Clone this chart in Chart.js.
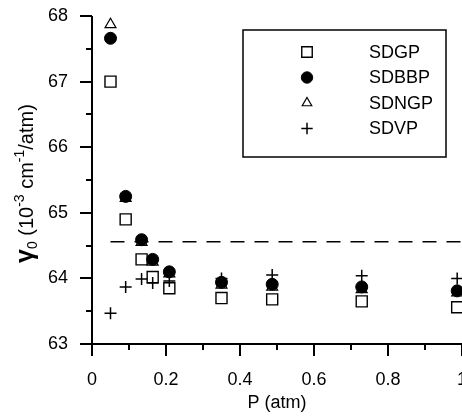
<!DOCTYPE html>
<html>
<head>
<meta charset="utf-8">
<script src="https://cdn.jsdelivr.net/npm/chart.js@4"></script>
<style>
    html, body { margin: 0; padding: 0; background: #fff; }
    canvas { display: block; }
</style>
</head>
<body>
<canvas id="chartGamma" width="462" height="417"></canvas>
<script>
// 数据 (P 单位 atm, γ0 单位 10^-3 cm^-1/atm)
const pressure = [0.05, 0.091, 0.134, 0.164, 0.209, 0.35, 0.487, 0.729, 0.987];
const sdgp  = [67.00, 64.90, 64.29, 64.02, 63.85, 63.70, 63.68, 63.65, 63.56];
const sdbbp = [67.66, 65.25, 64.59, 64.29, 64.10, 63.94, 63.91, 63.87, 63.81];
const sdngp = [67.87, 65.22, 64.55, 64.25, 64.07, 63.90, 63.87, 63.83, 63.78];
const sdvp  = [63.47, 63.87, 63.99, 63.93, 63.96, 64.00, 64.05, 64.04, 64.00];
const dashP = [0.05, 1.0];
const dashGamma = [64.56, 64.56];

const xTicks = [0, 0.2, 0.4, 0.6, 0.8, 1];
const yTicks = [63, 64, 65, 66, 67, 68];
const seriesNames = ['SDGP', 'SDBBP', 'SDNGP', 'SDVP'];

const FONT = '"Liberation Sans", Arial, Helvetica, sans-serif';

function toPoints(xs, ys) {
    return xs.map((x, i) => ({ x: x, y: ys[i] }));
}

// 各系列的符号样式
const markerStyles = {
    SDGP:  { pointStyle: 'rect',     radius: 7.8, fill: '#fff', lineWidth: 1.4, order: 4 },
    SDBBP: { pointStyle: 'circle',   radius: 6,   fill: '#000', lineWidth: 1,   order: 2 },
    SDNGP: { pointStyle: 'triangle', radius: 6.3, fill: '#fff', lineWidth: 1.2, order: 3 },
    SDVP:  { pointStyle: 'cross',    radius: 6,   fill: '#000', lineWidth: 1.5, order: 1 }
};
const seriesData = { SDGP: sdgp, SDBBP: sdbbp, SDNGP: sdngp, SDVP: sdvp };

let datasets = seriesNames.map(name => {
    const st = markerStyles[name];
    return {
        type: 'scatter',
        label: name,
        data: toPoints(pressure, seriesData[name]),
        pointStyle: st.pointStyle,
        pointRadius: st.radius,
        pointBackgroundColor: st.fill,
        pointBorderColor: '#000',
        pointBorderWidth: st.lineWidth,
        showLine: false,
        order: st.order,
        clip: false
    };
});
datasets.push({
    type: 'line',
    label: 'ref',
    data: toPoints(dashP, dashGamma),
    borderColor: '#000',
    borderWidth: 1.5,
    borderDash: [14, 10],
    pointRadius: 0,
    order: 5,
    clip: false
});

// 坐标轴、刻度、标题与图例
const axisPlugin = {
    id: 'axisPlugin',
    afterDraw(chart) {
        const ctx = chart.ctx;
        const xs = chart.scales.x, ys = chart.scales.y;
        const x0 = xs.getPixelForValue(0), x1 = xs.getPixelForValue(1);
        const y0 = ys.getPixelForValue(63), y1 = ys.getPixelForValue(68);
        ctx.save();
        ctx.strokeStyle = '#000';
        ctx.lineWidth = 2;
        ctx.lineCap = 'butt';
        ctx.beginPath();
        ctx.moveTo(x0, y1); ctx.lineTo(x0, y0);
        ctx.moveTo(x0, y0); ctx.lineTo(x1 + 2, y0);
        // y 刻度
        for (let v = 63; v <= 68.001; v += 0.5) {
            const p = Math.round(ys.getPixelForValue(v));
            const major = Math.abs(v - Math.round(v)) < 1e-6;
            ctx.moveTo(x0 - (major ? 12 : 6), p); ctx.lineTo(x0, p);
        }
        // x 刻度
        for (let i = 0; i <= 10; i++) {
            const v = i / 10;
            const p = Math.round(xs.getPixelForValue(v));
            const major = i % 2 === 0;
            ctx.moveTo(p, y0); ctx.lineTo(p, y0 + (major ? 12 : 6));
        }
        ctx.stroke();

        // x 轴标题
        ctx.fillStyle = '#000';
        ctx.font = '18px ' + FONT;
        ctx.textAlign = 'center';
        ctx.textBaseline = 'alphabetic';
        ctx.fillText('P (atm)', (x0 + x1) / 2, 408);

        // y 轴标题 (旋转)
        ctx.save();
        ctx.translate(33, 263);
        ctx.rotate(-Math.PI / 2);
        ctx.textAlign = 'left';
        const parts = [
            ['γ', 'bold 25px ' + FONT, 0],
            ['0', '14px ' + FONT, 4],
            [' (10', '20px ' + FONT, 0],
            ['-3', '14px ' + FONT, -9],
            [' cm', '20px ' + FONT, 0],
            ['-1', '14px ' + FONT, -9],
            ['/atm)', '20px ' + FONT, 0]
        ];
        let cx = 0;
        parts.forEach(p => {
            ctx.font = p[1];
            ctx.fillText(p[0], cx, p[2]);
            cx += ctx.measureText(p[0]).width;
        });
        ctx.restore();

        // 图例
        ctx.lineWidth = 1.5;
        ctx.strokeRect(243, 30, 203, 127);
        ctx.font = '18px ' + FONT;
        ctx.textAlign = 'left';
        ctx.textBaseline = 'middle';
        const rowY = [52, 77.5, 103, 128.5];
        seriesNames.forEach((name, i) => {
            const st = markerStyles[name];
            ctx.fillStyle = st.fill;
            ctx.strokeStyle = '#000';
            ctx.lineWidth = st.lineWidth;
            Chart.helpers.drawPoint(ctx, {
                pointStyle: st.pointStyle,
                radius: st.pointStyle === 'triangle' ? 5.5 : st.radius * 0.95,
                rotation: 0,
                borderWidth: st.lineWidth
            }, 307, rowY[i]);
            ctx.fillStyle = '#000';
            ctx.fillText(name, 369, rowY[i] + 1);
        });
        ctx.restore();
    }
};

let chartGamma = new Chart(document.getElementById('chartGamma'), {
    data: { datasets: datasets },
    options: {
        responsive: false,
        animation: false,
        layout: { autoPadding: false, padding: { top: 16, right: 0, left: 0, bottom: 0 } },
        plugins: {
            legend: { display: false },
            tooltip: { enabled: false }
        },
        scales: {
            x: {
                type: 'linear',
                min: 0, max: 1,
                afterFit: s => { s.height = 73; s.paddingLeft = 0; s.paddingRight = 0; },
                afterBuildTicks: s => { s.ticks = xTicks.map(v => ({ value: v })); },
                grid: { display: false, drawTicks: false },
                border: { display: false },
                ticks: {
                    padding: 25, color: '#000', maxRotation: 0, autoSkip: false,
                    font: { family: FONT, size: 18 },
                    callback: v => String(v)
                }
            },
            y: {
                type: 'linear',
                min: 63, max: 68,
                afterFit: s => { s.width = 92; s.paddingTop = 0; s.paddingBottom = 0; },
                afterBuildTicks: s => { s.ticks = yTicks.map(v => ({ value: v })); },
                grid: { display: false, drawTicks: false },
                border: { display: false },
                ticks: { padding: 24, color: '#000', font: { family: FONT, size: 18 } }
            }
        }
    },
    plugins: [axisPlugin]
});
</script>
</body>
</html>
